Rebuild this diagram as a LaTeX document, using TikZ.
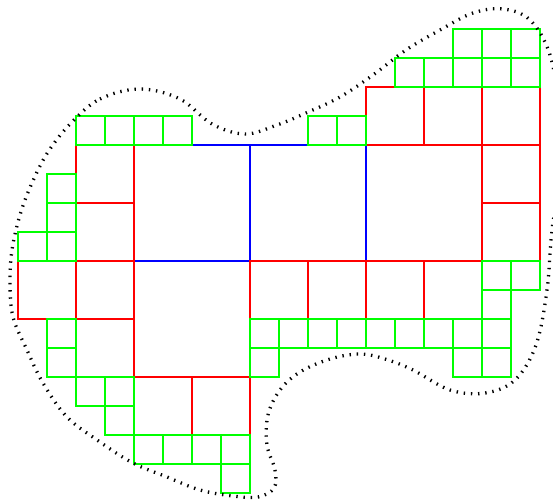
\documentclass[tikz,border=0pt]{standalone}
\definecolor{gr}{RGB}{0,255,0}
\begin{document}
\begin{tikzpicture}[x=1pt,y=-1pt,
  bl/.style={draw=blue,line width=2pt},
  rd/.style={draw=red,line width=2pt},
  gn/.style={draw=gr,line width=2pt},
  blob/.style={draw=black,line width=3.3pt,dash pattern=on 1.4pt off 5.8pt}]
\useasboundingbox (0,0) rectangle (553,500);
\clip (0,0) rectangle (553,500);
\begin{scope}[shift={(18,29)},x=29pt,y=-29pt]
  \foreach \a/\b in {4/4,8/4,12/4,4/8}
    \draw[bl] (\a,\b) rectangle +(4,4);
  \foreach \a/\b in {2/4,2/6,2/8,2/10,0/8,4/12,6/12,8/8,10/8,12/8,14/8,12/2,14/2,16/2,16/4,16/6}
    \draw[rd] (\a,\b) rectangle +(2,2);
  \foreach \a/\b in {2/3,3/3,4/3,5/3,1/5,1/6,0/7,1/7,1/10,1/11,2/12,3/12,3/13,
      4/14,5/14,6/14,7/14,7/15,8/10,9/10,10/10,11/10,12/10,13/10,14/10,15/10,16/10,
      8/11,15/11,16/11,16/8,17/8,16/9,15/0,16/0,17/0,13/1,14/1,15/1,16/1,17/1,10/3,11/3}
    \draw[gn] (\a,\b) rectangle +(1,1);
\end{scope}
\draw[blob] plot[smooth cycle, tension=0.6] coordinates {
  (71,123) (100,99) (140,89) (180,99) (212,124) (245,134) (277,125) (306,113)
  (340,97) (373,75) (406,50) (440,30) (473,13) (503,9) (530,20) (550,55)
  (560,115) (561,170) (552,230) (547,290) (536,345) (515,380) (485,393)
  (450,390) (413,370) (385,359) (360,354) (330,359) (300,372) (280,390)
  (268,415) (267,445) (275,470) (274,488) (258,497) (233,496) (200,490)
  (167,477) (133,463) (100,442) (67,417) (43,383) (27,350) (13,317)
  (10,283) (12,250) (20,215) (32,183) (48,152)};
\end{tikzpicture}
\end{document}
